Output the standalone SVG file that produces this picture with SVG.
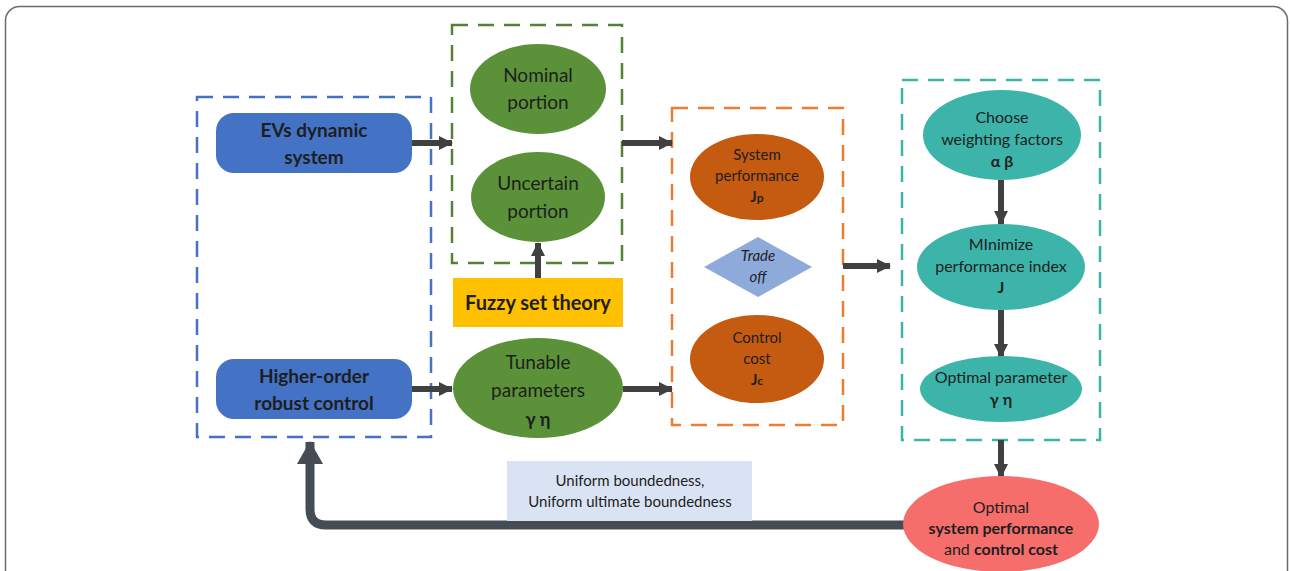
<svg xmlns="http://www.w3.org/2000/svg" width="1290" height="571" viewBox="0 0 1290 571">
<defs>
<style>
text{font-family:Lato,"Open Sans","Liberation Sans",sans-serif;fill:#1e1e1e;text-anchor:middle}
.b{font-weight:bold}
.dash{fill:none;stroke-width:2.5;stroke-dasharray:16 10}
.ar{stroke:#404040;stroke-width:6;fill:none}
</style>
<marker id="ah" markerUnits="userSpaceOnUse" markerWidth="16" markerHeight="16" refX="13" refY="7" orient="auto">
<path d="M0,0 L14,7 L0,14 z" fill="#404040"/>
</marker>
<marker id="big" markerUnits="userSpaceOnUse" markerWidth="30" markerHeight="30" refX="22" refY="13" orient="auto">
<path d="M0,0 L23,13 L0,26 z" fill="#464c54"/>
</marker>
</defs>
<rect x="5.5" y="6.5" width="1282" height="620" rx="14" fill="#fff" stroke="#6b6b6b" stroke-width="1.5"/>

<g id="group-boxes">
<rect x="197" y="97" width="234" height="340" class="dash" stroke="#4472c4"/>
<rect x="452" y="25" width="170" height="238" class="dash" stroke="#548235"/>
<rect x="672" y="108" width="171" height="317" class="dash" stroke="#ed7d31"/>
<rect x="902" y="80" width="198" height="360" class="dash" stroke="#3cb4aa"/>
</g>

<g id="connectors">
<line x1="412" y1="143" x2="452" y2="143" class="ar" marker-end="url(#ah)"/>
<line x1="412" y1="389" x2="452" y2="389" class="ar" marker-end="url(#ah)"/>
<line x1="538" y1="278" x2="538" y2="243" class="ar" marker-end="url(#ah)"/>
<line x1="622" y1="143" x2="672" y2="143" class="ar" marker-end="url(#ah)"/>
<line x1="623" y1="389" x2="672" y2="389" class="ar" marker-end="url(#ah)"/>
<line x1="843" y1="266" x2="890" y2="266" class="ar" marker-end="url(#ah)"/>
<line x1="1001" y1="180" x2="1001" y2="224" class="ar" marker-end="url(#ah)"/>
<line x1="1001" y1="310" x2="1001" y2="357" class="ar" marker-end="url(#ah)"/>
<line x1="1001" y1="440" x2="1001" y2="477" class="ar" marker-end="url(#ah)"/>
<path d="M905,525 L326,525 Q310,525 310,509 L310,442" stroke="#464c54" stroke-width="9" fill="none" marker-end="url(#big)"/>
</g>

<g id="evs">
<rect x="216" y="113" width="196" height="60" rx="18" fill="#4472c4"/>
<text x="314" y="137" class="b" font-size="19">EVs dynamic</text>
<text x="314" y="164" class="b" font-size="19">system</text>
</g>
<g id="hoc">
<rect x="216" y="359" width="196" height="60" rx="18" fill="#4472c4"/>
<text x="314" y="383" class="b" font-size="19">Higher-order</text>
<text x="314" y="410" class="b" font-size="19">robust control</text>
</g>
<g id="nominal">
<ellipse cx="538" cy="89" rx="68" ry="45" fill="#5b9138"/>
<text x="538" y="82" font-size="19">Nominal</text>
<text x="538" y="109" font-size="19">portion</text>
</g>
<g id="uncertain">
<ellipse cx="538" cy="197" rx="67" ry="45" fill="#5b9138"/>
<text x="538" y="190" font-size="19">Uncertain</text>
<text x="538" y="218" font-size="19">portion</text>
</g>
<g id="fuzzy">
<rect x="453" y="278" width="170" height="49" fill="#ffc000"/>
<text x="538" y="310" class="b" font-size="20">Fuzzy set theory</text>
</g>
<g id="tunable">
<ellipse cx="538" cy="388" rx="85" ry="50" fill="#5b9138"/>
<text x="538" y="369" font-size="19">Tunable</text>
<text x="538" y="397" font-size="19">parameters</text>
<text x="538" y="426" class="b" font-size="18">γ η</text>
</g>
<g id="sysperf">
<ellipse cx="757" cy="177" rx="67" ry="43" fill="#c55a11"/>
<text x="757" y="160" font-size="15">System</text>
<text x="757" y="181" font-size="15">performance</text>
<text x="757" y="202" class="b" font-size="15">J<tspan font-size="12">p</tspan></text>
</g>
<g id="tradeoff">
<polygon points="758,237 812,267 758,297 704,267" fill="#8eaadb"/>
<text x="758" y="261" font-size="15" font-style="italic">Trade</text>
<text x="758" y="282" font-size="15" font-style="italic">off</text>
</g>
<g id="ctrlcost">
<ellipse cx="757" cy="359" rx="67" ry="44" fill="#c55a11"/>
<text x="757" y="343" font-size="15">Control</text>
<text x="757" y="364" font-size="15">cost</text>
<text x="757" y="385" class="b" font-size="15">J<tspan font-size="12">c</tspan></text>
</g>
<g id="choose">
<ellipse cx="1002" cy="135" rx="79" ry="45" fill="#3cb4aa"/>
<text x="1002" y="123" font-size="16">Choose</text>
<text x="1002" y="145" font-size="16">weighting factors</text>
<text x="1002" y="167" class="b" font-size="16">α β</text>
</g>
<g id="minimize">
<ellipse cx="1001" cy="267" rx="84" ry="43" fill="#3cb4aa"/>
<text x="1001" y="250" font-size="16">MInimize</text>
<text x="1001" y="272" font-size="16">performance index</text>
<text x="1001" y="293" class="b" font-size="16">J</text>
</g>
<g id="optparam">
<ellipse cx="1001" cy="389" rx="81" ry="33" fill="#3cb4aa"/>
<text x="1001" y="383" font-size="16">Optimal parameter</text>
<text x="1001" y="405" class="b" font-size="16">γ η</text>
</g>
<g id="optimal">
<ellipse cx="1001" cy="524" rx="98" ry="48" fill="#f56e6b"/>
<text x="1001" y="513" font-size="16">Optimal</text>
<text x="1001" y="534" class="b" font-size="16">system performance</text>
<text x="1001" y="555" font-size="16">and <tspan class="b">control cost</tspan></text>
</g>
<g id="label">
<rect x="507" y="461" width="245" height="60" fill="#dae3f3"/>
<text x="630" y="486" font-size="15" fill="#333">Uniform boundedness,</text>
<text x="630" y="507" font-size="15" fill="#333">Uniform ultimate boundedness</text>
</g>
</svg>
